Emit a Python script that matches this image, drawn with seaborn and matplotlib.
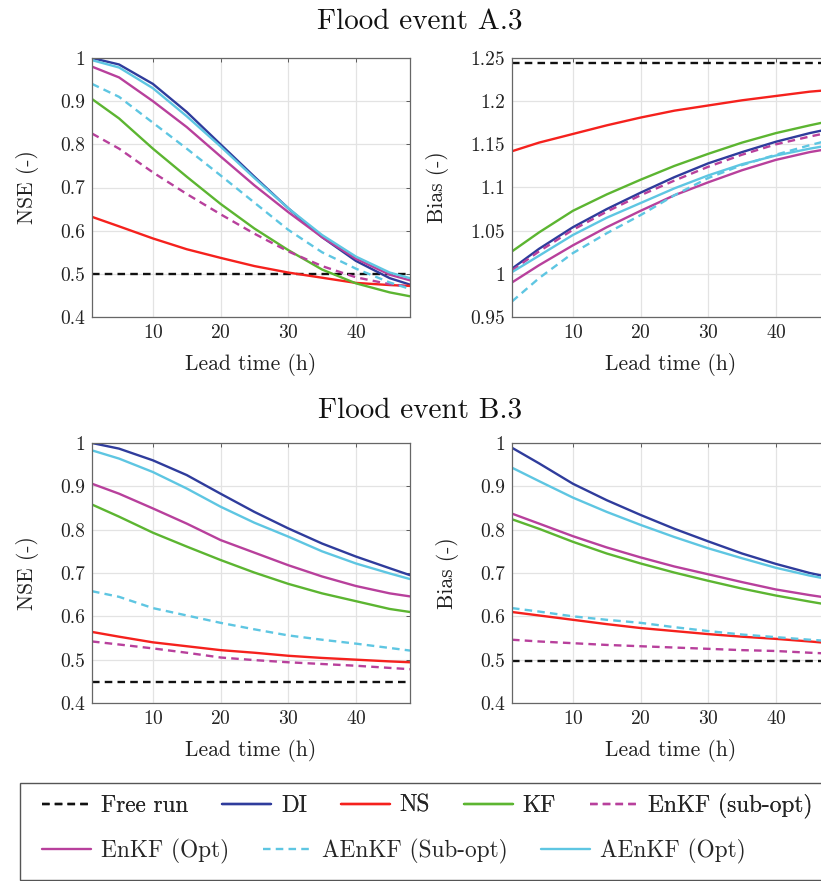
import numpy as np
import pandas as pd
import matplotlib
matplotlib.use("Agg")
import matplotlib.pyplot as plt
import seaborn as sns
from matplotlib.ticker import FuncFormatter, MultipleLocator
from matplotlib.patches import Rectangle

# ---------------- data ----------------
lead = [1, 5, 10, 15, 20, 25, 30, 35, 40, 45, 48]
methods = ["Free run", "DI", "NS", "KF", "EnKF (sub-opt)", "EnKF (Opt)",
           "AEnKF (Sub-opt)", "AEnKF (Opt)"]

# Flood event A.3 - NSE
a_nse_free = [0.5] * 11
a_nse_di = [1.0, 0.985, 0.94, 0.875, 0.80, 0.725, 0.652, 0.585, 0.53, 0.49, 0.475]
a_nse_ns = [0.632, 0.61, 0.582, 0.557, 0.537, 0.518, 0.503, 0.491, 0.479, 0.474, 0.472]
a_nse_kf = [0.905, 0.86, 0.79, 0.725, 0.662, 0.605, 0.555, 0.51, 0.478, 0.457, 0.448]
a_nse_enkf_sub = [0.825, 0.79, 0.735, 0.685, 0.638, 0.593, 0.552, 0.518, 0.492, 0.476, 0.47]
a_nse_enkf_opt = [0.98, 0.955, 0.90, 0.84, 0.772, 0.705, 0.643, 0.585, 0.535, 0.498, 0.485]
a_nse_aenkf_sub = [0.94, 0.91, 0.85, 0.79, 0.728, 0.665, 0.602, 0.55, 0.512, 0.48, 0.465]
a_nse_aenkf_opt = [0.995, 0.978, 0.93, 0.865, 0.795, 0.722, 0.652, 0.59, 0.54, 0.503, 0.49]

# Flood event A.3 - Bias
a_bias_free = [1.244] * 11
a_bias_di = [1.006, 1.029, 1.054, 1.075, 1.094, 1.112, 1.128, 1.141, 1.153, 1.163, 1.168]
a_bias_ns = [1.142, 1.152, 1.162, 1.172, 1.181, 1.189, 1.195, 1.201, 1.206, 1.211, 1.213]
a_bias_kf = [1.026, 1.048, 1.073, 1.092, 1.109, 1.125, 1.139, 1.152, 1.163, 1.172, 1.177]
a_bias_enkf_sub = [1.004, 1.026, 1.051, 1.072, 1.091, 1.108, 1.124, 1.138, 1.150, 1.159, 1.164]
a_bias_enkf_opt = [0.99, 1.01, 1.033, 1.054, 1.073, 1.091, 1.106, 1.12, 1.132, 1.141, 1.145]
a_bias_aenkf_sub = [0.968, 0.995, 1.024, 1.047, 1.068, 1.091, 1.111, 1.126, 1.138, 1.149, 1.155]
a_bias_aenkf_opt = [1.002, 1.021, 1.045, 1.065, 1.082, 1.099, 1.114, 1.127, 1.137, 1.145, 1.149]

# Flood event B.3 - NSE
b_nse_free = [0.448] * 11
b_nse_di = [1.0, 0.987, 0.96, 0.926, 0.883, 0.841, 0.803, 0.768, 0.738, 0.711, 0.695]
b_nse_ns = [0.564, 0.553, 0.54, 0.531, 0.522, 0.516, 0.509, 0.504, 0.5, 0.496, 0.494]
b_nse_kf = [0.858, 0.83, 0.793, 0.761, 0.73, 0.701, 0.675, 0.653, 0.635, 0.617, 0.61]
b_nse_enkf_sub = [0.542, 0.535, 0.526, 0.516, 0.505, 0.499, 0.494, 0.49, 0.486, 0.481, 0.478]
b_nse_enkf_opt = [0.906, 0.883, 0.849, 0.814, 0.776, 0.747, 0.718, 0.692, 0.67, 0.653, 0.646]
b_nse_aenkf_sub = [0.658, 0.645, 0.619, 0.602, 0.585, 0.57, 0.556, 0.546, 0.537, 0.527, 0.521]
b_nse_aenkf_opt = [0.983, 0.964, 0.933, 0.895, 0.853, 0.816, 0.784, 0.75, 0.722, 0.699, 0.686]

# Flood event B.3 - Bias
b_bias_free = [0.496] * 11
b_bias_di = [0.989, 0.953, 0.906, 0.868, 0.834, 0.802, 0.773, 0.745, 0.721, 0.70, 0.69]
b_bias_ns = [0.61, 0.602, 0.592, 0.582, 0.573, 0.566, 0.559, 0.553, 0.548, 0.542, 0.538]
b_bias_kf = [0.824, 0.802, 0.772, 0.745, 0.722, 0.701, 0.682, 0.664, 0.648, 0.634, 0.626]
b_bias_enkf_sub = [0.546, 0.542, 0.538, 0.534, 0.531, 0.528, 0.525, 0.522, 0.52, 0.516, 0.514]
b_bias_enkf_opt = [0.837, 0.814, 0.785, 0.759, 0.736, 0.715, 0.697, 0.679, 0.662, 0.649, 0.642]
b_bias_aenkf_sub = [0.619, 0.611, 0.60, 0.592, 0.585, 0.575, 0.566, 0.558, 0.552, 0.546, 0.543]
b_bias_aenkf_opt = [0.943, 0.912, 0.874, 0.841, 0.811, 0.783, 0.757, 0.734, 0.712, 0.694, 0.685]

panels = {
    "a_nse": [a_nse_free, a_nse_di, a_nse_ns, a_nse_kf, a_nse_enkf_sub, a_nse_enkf_opt, a_nse_aenkf_sub, a_nse_aenkf_opt],
    "a_bias": [a_bias_free, a_bias_di, a_bias_ns, a_bias_kf, a_bias_enkf_sub, a_bias_enkf_opt, a_bias_aenkf_sub, a_bias_aenkf_opt],
    "b_nse": [b_nse_free, b_nse_di, b_nse_ns, b_nse_kf, b_nse_enkf_sub, b_nse_enkf_opt, b_nse_aenkf_sub, b_nse_aenkf_opt],
    "b_bias": [b_bias_free, b_bias_di, b_bias_ns, b_bias_kf, b_bias_enkf_sub, b_bias_enkf_opt, b_bias_aenkf_sub, b_bias_aenkf_opt],
}

# ---------------- style ----------------
colors = {"Free run": "#111111", "DI": "#2f3c9c", "NS": "#f5211d", "KF": "#5cb531",
          "EnKF (sub-opt)": "#b8409c", "EnKF (Opt)": "#b8409c",
          "AEnKF (Sub-opt)": "#5ec6e2", "AEnKF (Opt)": "#5ec6e2"}
dashed = {"Free run": True, "DI": False, "NS": False, "KF": False, "EnKF (sub-opt)": True,
          "EnKF (Opt)": False, "AEnKF (Sub-opt)": True, "AEnKF (Opt)": False}

sns.set_style("white")
plt.rcParams["font.family"] = ["cmr10", "DejaVu Serif"]
plt.rcParams["mathtext.fontset"] = "cm"
plt.rcParams["axes.formatter.use_mathtext"] = True
plt.rcParams["axes.unicode_minus"] = False

W, H = 821, 881
fig = plt.figure(figsize=(W / 100, H / 100), dpi=100)

def frac_rect(x0, y0, x1, y1):
    return [x0 / W, 1 - y1 / H, (x1 - x0) / W, (y1 - y0) / H]

axes = {
    "a_nse": fig.add_axes(frac_rect(92, 58, 410, 317)),
    "a_bias": fig.add_axes(frac_rect(512, 58, 830, 317)),
    "b_nse": fig.add_axes(frac_rect(92, 443, 410, 703)),
    "b_bias": fig.add_axes(frac_rect(512, 443, 830, 703)),
}
ylims = {"a_nse": (0.4, 1.0), "a_bias": (0.95, 1.25), "b_nse": (0.4, 1.0), "b_bias": (0.4, 1.0)}
ysteps = {"a_nse": 0.1, "a_bias": 0.05, "b_nse": 0.1, "b_bias": 0.1}
ylabels = {"a_nse": "NSE (-)", "a_bias": "Bias (-)", "b_nse": "NSE (-)", "b_bias": "Bias (-)"}

fmt = FuncFormatter(lambda v, p: ("%.2f" % v).rstrip("0").rstrip("."))

for key, ax in axes.items():
    for m, vals in zip(methods, panels[key]):
        sns.lineplot(x=lead, y=vals, ax=ax, color=colors[m], linewidth=1.7, label=m,
                     linestyle="--" if dashed[m] else "-")
        if dashed[m]:
            ax.lines[-1].set_dashes((3.2, 2.2))
    ax.set_xlim(1, 48)
    ax.set_ylim(*ylims[key])
    ax.xaxis.set_major_locator(MultipleLocator(10))
    ax.yaxis.set_major_locator(MultipleLocator(ysteps[key]))
    ax.yaxis.set_major_formatter(fmt)
    ax.grid(True, color="#e3e3e3", linewidth=0.9)
    ax.set_axisbelow(True)
    ax.tick_params(direction="in", top=True, right=True, length=3, width=0.6,
                   colors="#444444", labelcolor="#222222", labelsize=14, pad=5)
    for s in ax.spines.values():
        s.set_color("#666666")
        s.set_linewidth(0.9)
    ax.set_xlabel("Lead time (h)", fontsize=15.5, labelpad=8, color="#222222")
    ax.set_ylabel(ylabels[key], fontsize=15.5, labelpad=15, color="#222222")
    leg = ax.get_legend()
    if leg is not None:
        leg.remove()

fig.text(420 / W, 1 - 22 / H, "Flood event A.3", ha="center", va="center", fontsize=21, color="#111111")
fig.text(420 / W, 1 - 410 / H, "Flood event B.3", ha="center", va="center", fontsize=21, color="#111111")

# legend
handles, labels = axes["a_nse"].get_legend_handles_labels()
frame = Rectangle((20 / W, 1 - 880 / H), 1.0, (880 - 783) / H, transform=fig.transFigure,
                  facecolor="white", edgecolor="#555555", linewidth=1.0)
fig.patches.append(frame)
leg_kw = dict(loc="center left", frameon=False, fontsize=16.8, handlelength=2.1,
              handletextpad=0.42, columnspacing=1.45, borderaxespad=0, borderpad=0)
leg1 = fig.legend(handles[:5], labels[:5], ncol=5,
                  bbox_to_anchor=(42 / W, 1 - 806 / H), **leg_kw)
leg2 = fig.legend(handles[5:], labels[5:], ncol=3,
                  bbox_to_anchor=(42 / W, 1 - 851 / H), **leg_kw)
fig.add_artist(leg1)

fig.savefig("out.png", dpi=100)
